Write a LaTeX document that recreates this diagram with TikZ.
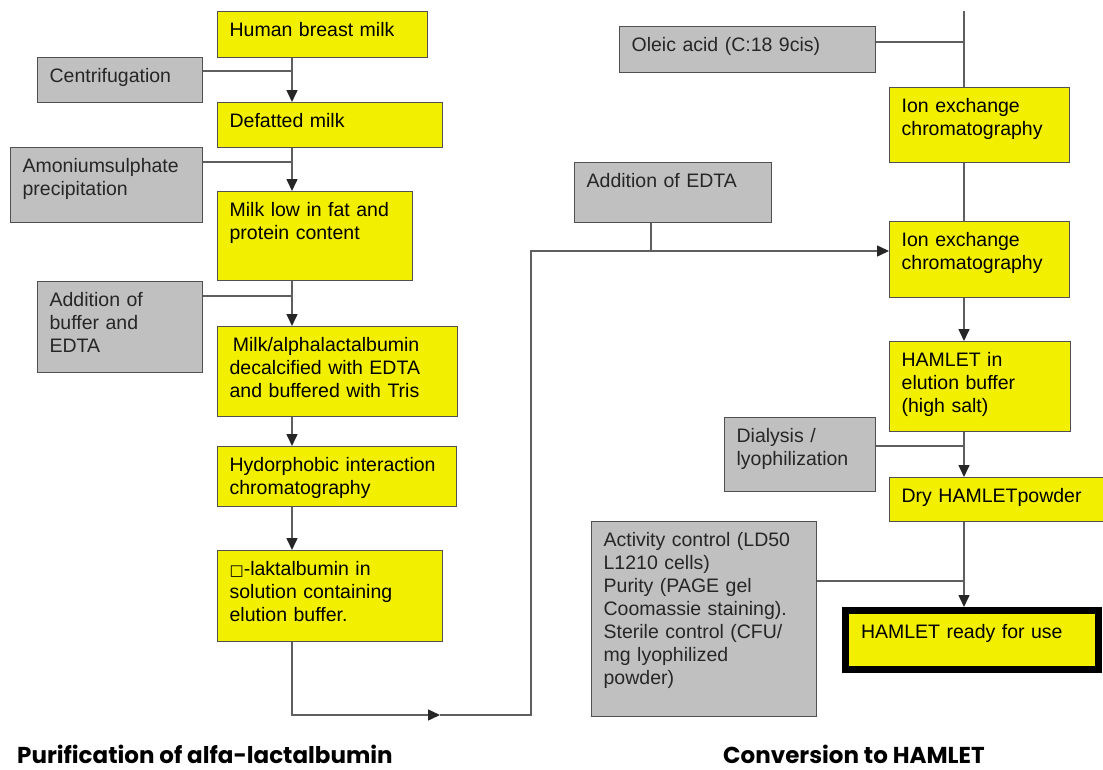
\documentclass[tikz,border=0pt]{standalone}
\usepackage{fontspec}
\setmainfont{Liberation Sans}
\newfontfamily\titlefont{Poppins}
\newfontfamily\symfont{DejaVu Sans}
\usetikzlibrary{arrows.meta}

\definecolor{boxyellow}{RGB}{243,239,0}
\definecolor{boxgray}{RGB}{192,192,192}
\definecolor{boxline}{RGB}{80,80,80}
\definecolor{flowline}{RGB}{95,95,95}

\tikzset{
  procbox/.style={draw=boxline, line width=1.3pt, anchor=north west, align=left,
    inner xsep=12pt, inner ysep=0pt, text height=25pt,
    font=\fontsize{19.5}{23}\selectfont},
  ybox/.style={procbox, fill=boxyellow, text=black},
  gbox/.style={procbox, fill=boxgray, text=black!85},
  flow/.style={draw=flowline, line width=1.5pt},
  >={Triangle[width=11pt,length=12pt,color=black!85]},
  title/.style={inner sep=0pt, anchor=base west, font=\titlefont\bfseries\fontsize{23}{27}\selectfont}
}

\begin{document}
\begin{tikzpicture}[x=1pt,y=-1pt]
  \useasboundingbox (0,0) rectangle (1103,769);

  % purification
  \node[ybox, text width=186pt, text depth=21pt] (milk) at (217,11) {Human breast milk};
  \node[gbox, text width=141pt, text depth=20pt] (cent) at (37,57) {Centrifugation};
  \node[ybox, text width=201pt, text depth=20pt] (dfm) at (217,102) {Defatted milk};
  \node[gbox, text width=168pt, text depth=50pt] (amon) at (10,147) {Amoniumsulphate\\precipitation};
  \node[ybox, text width=171pt, text depth=64pt] (mlow) at (217,191) {Milk low in fat and\\protein content};
  \node[gbox, text width=141pt, text depth=66pt] (abuf) at (37,281) {Addition of\\buffer and\\EDTA};
  \node[ybox, text width=216pt, text depth=65pt] (malp) at (217,326) {\,Milk/alphalactalbumin\\decalcified with EDTA\\and buffered with Tris};
  \node[ybox, text width=215pt, text depth=35pt] (hyd) at (217,446) {Hydorphobic interaction\\chromatography};
  \node[ybox, text width=201pt, text depth=66pt] (lakt) at (217,550) {{\symfont\fontsize{15}{23}\selectfont □}-laktalbumin in\\solution containing\\elution buffer.};

  % conversion
  \node[gbox, text width=232pt, text depth=21pt] (oleic) at (619,26) {Oleic acid (C:18 9cis)};
  \node[gbox, text width=173pt, text depth=35pt] (edta) at (574,162) {Addition of EDTA};
  \node[ybox, text width=156pt, text depth=50pt] (ion1) at (889,87) {Ion exchange\\chromatography};
  \node[ybox, text width=156pt, text depth=51pt] (ion2) at (889,221) {Ion exchange\\chromatography};
  \node[ybox, text width=157pt, text depth=65pt] (ham) at (889,341) {HAMLET in\\elution buffer\\(high salt)};
  \node[gbox, text width=127pt, text depth=49pt] (dial) at (724,417) {Dialysis /\\lyophilization};
  \node[ybox, text width=196pt, text depth=19pt] (dry) at (889,477) {Dry HAMLETpowder};
  \node[gbox, text width=201pt, text depth=170pt] (act) at (591,521) {Activity control (LD50\\L1210 cells)\\Purity (PAGE gel\\Coomassie staining).\\Sterile control (CFU/\\mg lyophilized\\powder)};
  \node[ybox, draw=black, line width=7pt, inner xsep=15.5pt, text height=27.5pt, text width=222pt, text depth=31.5pt] (ready) at (842,607) {HAMLET ready for use};

  % junctions
  \coordinate (lx) at (292,0);
  \coordinate (rx) at (964,0);
  \coordinate (j1) at (292,71);
  \coordinate (j2) at (292,162);
  \coordinate (j3) at (292,296);
  \coordinate (bm) at (440,715);
  \coordinate (e1) at (531,251);
  \coordinate (e2) at (651,251);
  \coordinate (r0) at (964,11);
  \coordinate (r1) at (964,42);
  \coordinate (r2) at (964,446);
  \coordinate (r3) at (964,581);

  \draw[flow,->] (milk.south -| lx) -- (dfm.north -| lx);
  \draw[flow] (cent.east |- j1) -- (j1);
  \draw[flow,->] (dfm.south -| lx) -- (mlow.north -| lx);
  \draw[flow] (amon.east |- j2) -- (j2);
  \draw[flow,->] (mlow.south -| lx) -- (malp.north -| lx);
  \draw[flow] (abuf.east |- j3) -- (j3);
  \draw[flow,->] (malp.south -| lx) -- (hyd.north -| lx);
  \draw[flow,->] (hyd.south -| lx) -- (lakt.north -| lx);
  \draw[flow,->] (lakt.south -| lx) |- (bm);
  \draw[flow,->] (bm) -| (e1) -- (ion2.west |- e1);
  \draw[flow] (edta.south -| e2) -- (e2);

  \draw[flow] (r0) -- (ion1.north -| rx);
  \draw[flow] (oleic.east |- r1) -- (r1);
  \draw[flow] (ion1.south -| rx) -- (ion2.north -| rx);
  \draw[flow,->] (ion2.south -| rx) -- (ham.north -| rx);
  \draw[flow,->] (ham.south -| rx) -- (dry.north -| rx);
  \draw[flow] (dial.east |- r2) -- (r2);
  \draw[flow,->] (dry.south -| rx) -- (ready.north -| rx);
  \draw[flow] (act.east |- r3) -- (r3);

  \node[title] (ttl) at (17,763) {Purification of alfa-lactalbumin};
  \node[title] (ttr) at (723,763) {Conversion to HAMLET};
\end{tikzpicture}
\end{document}
